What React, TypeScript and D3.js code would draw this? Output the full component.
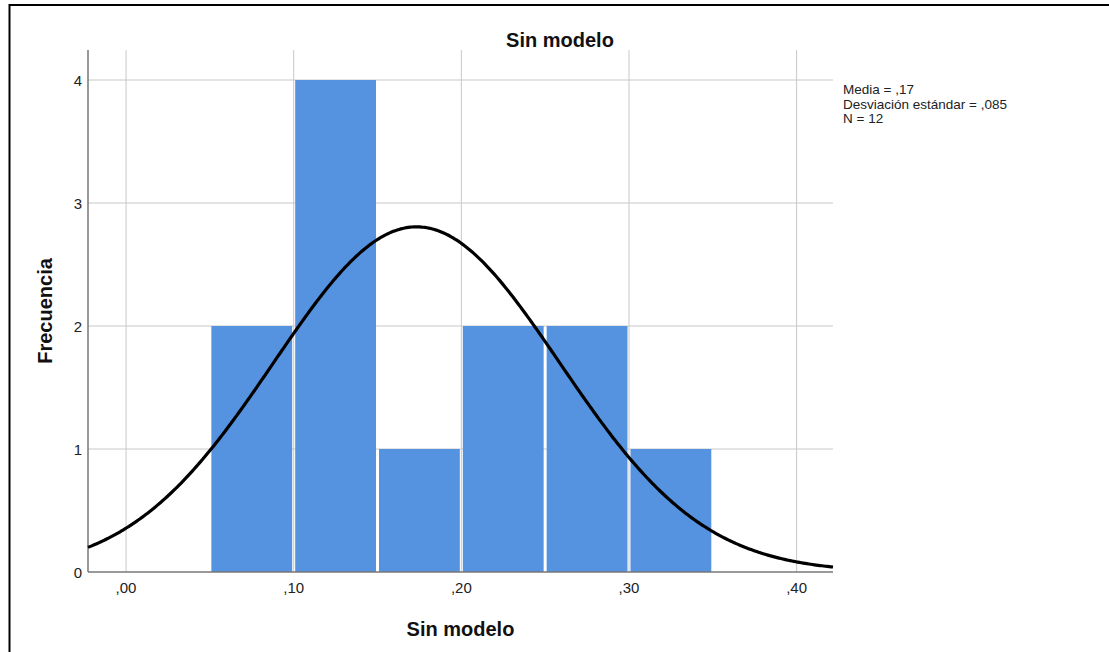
import React from "react";
import * as d3 from "d3";

const binStarts = [0.05, 0.10, 0.15, 0.20, 0.25, 0.30];
const binWidth = 0.05;
const counts = [2, 4, 1, 2, 2, 1];
const xTicks = [0, 0.1, 0.2, 0.3, 0.4];
const xTickLabels = [",00", ",10", ",20", ",30", ",40"];
const yTicks = [0, 1, 2, 3, 4];
const mean = 0.1733;
const sd = 0.0853;
const nTotal = 12;
const legendLines = ["Media = ,17", "Desviación estándar = ,085", "N = 12"];
const title = "Sin modelo";
const xLabel = "Sin modelo";
const yLabel = "Frecuencia";

const W = 1109;
const H = 652;
const FONT = "'Liberation Sans', Arial, sans-serif";

export default function App() {
  const x = d3.scaleLinear().domain([-0.0227, 0.4217]).range([88, 833]);
  const y = d3.scaleLinear().domain([0, 4]).range([572, 80]);
  const plotTop = 50;

  const density = (v: number) =>
    (nTotal * binWidth) / (sd * Math.sqrt(2 * Math.PI)) *
    Math.exp(-0.5 * ((v - mean) / sd) ** 2);
  const [d0, d1] = x.domain();
  const pts: [number, number][] = d3.range(0, 401).map((i) => {
    const v = d0 + ((d1 - d0) * i) / 400;
    return [v, density(v)];
  });
  const line = d3
    .line<[number, number]>()
    .x((d) => x(d[0]))
    .y((d) => y(d[1]))
    .curve(d3.curveLinear);

  return (
    <svg
      width={W}
      height={H}
      style={{ position: "absolute", left: 0, top: 0, background: "#fff" }}
      fontFamily={FONT}
    >
      <rect x={0} y={0} width={W} height={H} fill="#fff" />
      {/* frame */}
      <rect x={9.5} y={5} width={W + 20} height={H + 20} fill="none" stroke="#000" strokeWidth={2} />

      {/* gridlines */}
      {xTicks.map((t, i) => (
        <line key={"gx" + i} x1={x(t)} x2={x(t)} y1={plotTop} y2={y(0)} stroke="#c8c8c8" strokeWidth={1} />
      ))}
      {yTicks.filter((t) => t > 0).map((t, i) => (
        <line key={"gy" + i} x1={x(d0)} x2={x(d1)} y1={y(t)} y2={y(t)} stroke="#c8c8c8" strokeWidth={1} />
      ))}

      {/* bars */}
      {binStarts.map((b, i) => (
        <rect
          key={"b" + i}
          x={x(b) + 1.5}
          y={y(counts[i])}
          width={x(b + binWidth) - x(b) - 3}
          height={y(0) - y(counts[i])}
          fill="#5592e0"
        />
      ))}

      {/* axes */}
      <line x1={x(d0)} x2={x(d0)} y1={plotTop} y2={y(0)} stroke="#777" strokeWidth={1.5} />
      <line x1={x(d0)} x2={x(d1)} y1={y(0)} y2={y(0)} stroke="#777" strokeWidth={1.5} />

      {/* normal curve */}
      <path d={line(pts) || ""} fill="none" stroke="#000" strokeWidth={3.2} />

      {/* tick labels */}
      {yTicks.map((t, i) => (
        <text key={"yt" + i} x={82} y={y(t) + 6} fontSize={15} textAnchor="end" fill="#222">
          {t}
        </text>
      ))}
      {xTicks.map((t, i) => (
        <text key={"xt" + i} x={x(t)} y={593} fontSize={15} textAnchor="middle" fill="#222">
          {xTickLabels[i]}
        </text>
      ))}

      {/* titles */}
      <text x={560} y={47} fontSize={20} fontWeight="bold" textAnchor="middle" fill="#111">
        {title}
      </text>
      <text x={(x(d0) + x(d1)) / 2} y={636} fontSize={20} fontWeight="bold" textAnchor="middle" fill="#111">
        {xLabel}
      </text>
      <text
        transform={`translate(52, ${(plotTop + y(0)) / 2}) rotate(-90)`}
        fontSize={20}
        fontWeight="bold"
        textAnchor="middle"
        fill="#111"
      >
        {yLabel}
      </text>

      {/* legend */}
      {legendLines.map((s, i) => (
        <text key={"l" + i} x={843} y={94 + i * 14.5} fontSize={13.5} fill="#222">
          {s}
        </text>
      ))}
    </svg>
  );
}
